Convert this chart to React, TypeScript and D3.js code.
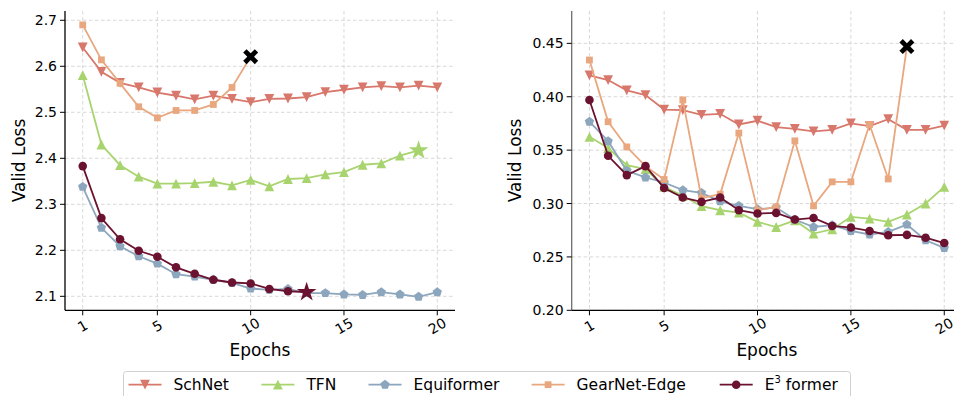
import React, { useEffect, useRef } from "react";
import * as d3 from "d3";

// epochs 1..20
const epochs = d3.range(1, 21);
const xTicks = [1, 5, 10, 15, 20];

// left panel
const leftSchNet = [2.641, 2.588, 2.564, 2.554, 2.543, 2.536, 2.528, 2.536, 2.529, 2.522, 2.529, 2.530, 2.533, 2.544, 2.549, 2.554, 2.557, 2.554, 2.558, 2.554];
const leftTFN = [2.581, 2.430, 2.385, 2.360, 2.345, 2.345, 2.346, 2.349, 2.341, 2.353, 2.339, 2.355, 2.357, 2.365, 2.370, 2.386, 2.389, 2.406, 2.417];
const leftEquiformer = [2.338, 2.249, 2.209, 2.187, 2.171, 2.148, 2.143, 2.136, 2.129, 2.117, 2.114, 2.116, 2.107, 2.107, 2.104, 2.103, 2.109, 2.104, 2.099, 2.109];
const leftGearNet = [2.690, 2.614, 2.563, 2.512, 2.488, 2.504, 2.504, 2.517, 2.554, 2.621];
const leftE3former = [2.383, 2.270, 2.224, 2.199, 2.186, 2.163, 2.149, 2.136, 2.130, 2.128, 2.116, 2.111, 2.109];
const leftYTicks = [2.1, 2.2, 2.3, 2.4, 2.5, 2.6, 2.7];

// right panel
const rightSchNet = [0.420, 0.4156, 0.406, 0.4016, 0.388, 0.3875, 0.383, 0.384, 0.374, 0.3775, 0.3716, 0.370, 0.3675, 0.369, 0.375, 0.3725, 0.379, 0.369, 0.369, 0.373];
const rightTFN = [0.3625, 0.352, 0.336, 0.3322, 0.3156, 0.3072, 0.2975, 0.2937, 0.2915, 0.2828, 0.278, 0.2843, 0.2719, 0.2759, 0.2875, 0.2859, 0.2828, 0.2897, 0.300, 0.3156];
const rightEquiformer = [0.3766, 0.3584, 0.3306, 0.3244, 0.3197, 0.3125, 0.310, 0.302, 0.2978, 0.2947, 0.2962, 0.285, 0.278, 0.2797, 0.2743, 0.271, 0.2734, 0.2803, 0.2656, 0.2584];
const rightGearNet = [0.4344, 0.3766, 0.353, 0.335, 0.3225, 0.397, 0.305, 0.3088, 0.366, 0.2937, 0.2968, 0.3587, 0.2978, 0.3203, 0.3203, 0.374, 0.323, 0.447];
const rightE3former = [0.397, 0.3447, 0.3266, 0.335, 0.3146, 0.3056, 0.3015, 0.3056, 0.2937, 0.2906, 0.2912, 0.285, 0.2865, 0.279, 0.2775, 0.2743, 0.2703, 0.2706, 0.268, 0.263];
const rightYTicks = [0.20, 0.25, 0.30, 0.35, 0.40, 0.45];

const names = ["SchNet", "TFN", "Equiformer", "GearNet-Edge", "E3former"];
const colors = ["#d8776b", "#a8d46f", "#8ca6bd", "#e8a77e", "#6b1230"];
const markers = ["down", "up", "pentagon", "square", "circle"];

const FONT = "DejaVu Sans, sans-serif";

function markerSize(k: string) {
  return k === "square" ? 3.4 : k === "circle" ? 4.3 : 4.9;
}

function markerPath(kind: string, s: number): string {
  if (kind === "circle") return d3.symbol(d3.symbolCircle, Math.PI * s * s)()!;
  if (kind === "square") return d3.symbol(d3.symbolSquare, 4 * s * s)()!;
  if (kind === "star") return d3.symbol(d3.symbolStar, s * s * 1.2)()!;
  if (kind === "up" || kind === "down") {
    const k = kind === "up" ? 1 : -1;
    return `M0,${-s * k}L${s},${s * k}L${-s},${s * k}Z`;
  }
  if (kind === "pentagon") {
    const pts = d3.range(5).map((i) => {
      const a = -Math.PI / 2 + (i * 2 * Math.PI) / 5;
      return [s * Math.cos(a), s * Math.sin(a)];
    });
    return "M" + pts.map((p) => p.join(",")).join("L") + "Z";
  }
  if (kind === "X") {
    const a = s * 0.45, b = s;
    const pts = [[-b + a, -b], [0, -a], [b - a, -b], [b, -b + a], [a, 0], [b, b - a], [b - a, b], [0, a], [-b + a, b], [-b, b - a], [-a, 0], [-b, -b + a]];
    return "M" + pts.map((p) => p.join(",")).join("L") + "Z";
  }
  return "";
}

function drawPanel(svg: any, cfg: any) {
  const x = d3.scaleLinear().domain([0.05, 20.95]).range([cfg.left, cfg.right]);
  const y = d3.scaleLinear().domain(cfg.yDomain).range([310.3, 11]);
  const g = svg.append("g");

  // grid
  g.selectAll(".gx").data(xTicks).join("line")
    .attr("x1", (d: number) => x(d)).attr("x2", (d: number) => x(d))
    .attr("y1", 11).attr("y2", 310.3)
    .attr("stroke", "#d4d4d4").attr("stroke-width", 0.9).attr("stroke-dasharray", "3.5,2.5");
  g.selectAll(".gy").data(cfg.yTicks).join("line")
    .attr("x1", cfg.left).attr("x2", cfg.right)
    .attr("y1", (d: number) => y(d)).attr("y2", (d: number) => y(d))
    .attr("stroke", "#d4d4d4").attr("stroke-width", 0.9).attr("stroke-dasharray", "3.5,2.5");

  // series
  const line = d3.line<number>().x((_, i) => x(epochs[i])).y((d) => y(d));
  cfg.series.forEach((vals: number[], si: number) => {
    g.append("path").attr("d", line(vals)).attr("fill", "none")
      .attr("stroke", colors[si]).attr("stroke-width", 1.8);
    const end = cfg.ends[si];
    vals.forEach((v, i) => {
      const last = i === vals.length - 1;
      if (last && end === "X") {
        g.append("path").attr("d", markerPath("X", 7.5))
          .attr("transform", `translate(${x(epochs[i])},${y(v)})`).attr("fill", "#000");
      } else if (last && end === "star") {
        g.append("path").attr("d", markerPath("star", 10))
          .attr("transform", `translate(${x(epochs[i])},${y(v)})`).attr("fill", colors[si]);
      } else {
        const k = markers[si];
        g.append("path").attr("d", markerPath(k, markerSize(k)))
          .attr("transform", `translate(${x(epochs[i])},${y(v)})`).attr("fill", colors[si]);
      }
    });
  });

  // spines
  g.append("line").attr("x1", cfg.left).attr("x2", cfg.left).attr("y1", 11).attr("y2", 310.3)
    .attr("stroke", cfg.spineColor).attr("stroke-width", 1.3);
  g.append("line").attr("x1", cfg.left).attr("x2", cfg.right).attr("y1", 310.3).attr("y2", 310.3)
    .attr("stroke", "#000").attr("stroke-width", 1.3);

  // y ticks
  cfg.yTicks.forEach((t: number) => {
    g.append("line").attr("x1", cfg.left - 5).attr("x2", cfg.left).attr("y1", y(t)).attr("y2", y(t))
      .attr("stroke", "#000").attr("stroke-width", 1);
    g.append("text").attr("x", cfg.left - 8).attr("y", y(t)).attr("text-anchor", "end")
      .attr("dominant-baseline", "central").attr("font-family", FONT).attr("font-size", 14)
      .attr("fill", "#000").text(d3.format(cfg.yFormat)(t));
  });
  // x ticks
  xTicks.forEach((t) => {
    g.append("line").attr("x1", x(t)).attr("x2", x(t)).attr("y1", 310.3).attr("y2", 315.3)
      .attr("stroke", "#000").attr("stroke-width", 1);
    g.append("text").attr("transform", `translate(${x(t)},326) rotate(-30)`)
      .attr("text-anchor", "middle").attr("dominant-baseline", "central")
      .attr("font-family", FONT).attr("font-size", 14).attr("fill", "#000").text(String(t));
  });

  g.append("text").attr("x", (cfg.left + cfg.right) / 2).attr("y", 356)
    .attr("text-anchor", "middle").attr("font-family", FONT).attr("font-size", 17).text("Epochs");
  g.append("text").attr("transform", `translate(${cfg.labelX},160.5) rotate(-90)`)
    .attr("text-anchor", "middle").attr("dominant-baseline", "central")
    .attr("font-family", FONT).attr("font-size", 17).text("Valid Loss");
}

export default function App() {
  const ref = useRef<SVGSVGElement>(null);

  useEffect(() => {
    document.body.style.margin = "0";
    const svg = d3.select(ref.current);
    svg.selectAll("*").remove();

    drawPanel(svg, {
      left: 65, right: 455, yDomain: [2.0696, 2.7202], yTicks: leftYTicks, yFormat: ".1f",
      labelX: 19, spineColor: "#000",
      series: [leftSchNet, leftTFN, leftEquiformer, leftGearNet, leftE3former],
      ends: [null, "star", null, "X", "star"],
    });
    drawPanel(svg, {
      left: 571.7, right: 962, yDomain: [0.2, 0.4803], yTicks: rightYTicks, yFormat: ".2f",
      labelX: 515, spineColor: "#6e6e6e",
      series: [rightSchNet, rightTFN, rightEquiformer, rightGearNet, rightE3former],
      ends: [null, null, null, "X", null],
    });

    // legend
    const lg = svg.append("g");
    lg.append("rect").attr("x", 123.5).attr("y", 371.5).attr("width", 727).attr("height", 40)
      .attr("rx", 3).attr("fill", "#fff").attr("stroke", "#d0d0d0").attr("stroke-width", 1);
    const lineX = [128.5, 261.4, 368.5, 531.6, 719.7];
    const ly = 384.7;
    names.forEach((n, i) => {
      lg.append("line").attr("x1", lineX[i]).attr("x2", lineX[i] + 33).attr("y1", ly).attr("y2", ly)
        .attr("stroke", colors[i]).attr("stroke-width", 1.8);
      const k = markers[i];
      lg.append("path").attr("d", markerPath(k, markerSize(k)))
        .attr("transform", `translate(${lineX[i] + 16.5},${ly})`).attr("fill", colors[i]);
      const t = lg.append("text").attr("x", lineX[i] + 45).attr("y", ly)
        .attr("dominant-baseline", "central").attr("font-family", FONT).attr("font-size", 15.5)
        .attr("fill", "#000");
      if (n === "E3former") {
        t.append("tspan").text("E");
        t.append("tspan").attr("dy", -6).attr("font-size", 10).text("3");
        t.append("tspan").attr("dy", 6).text(" former");
      } else {
        t.text(n);
      }
    });
  }, []);

  return <svg ref={ref} width={954} height={396} style={{ display: "block", background: "#fff" }} />;
}
